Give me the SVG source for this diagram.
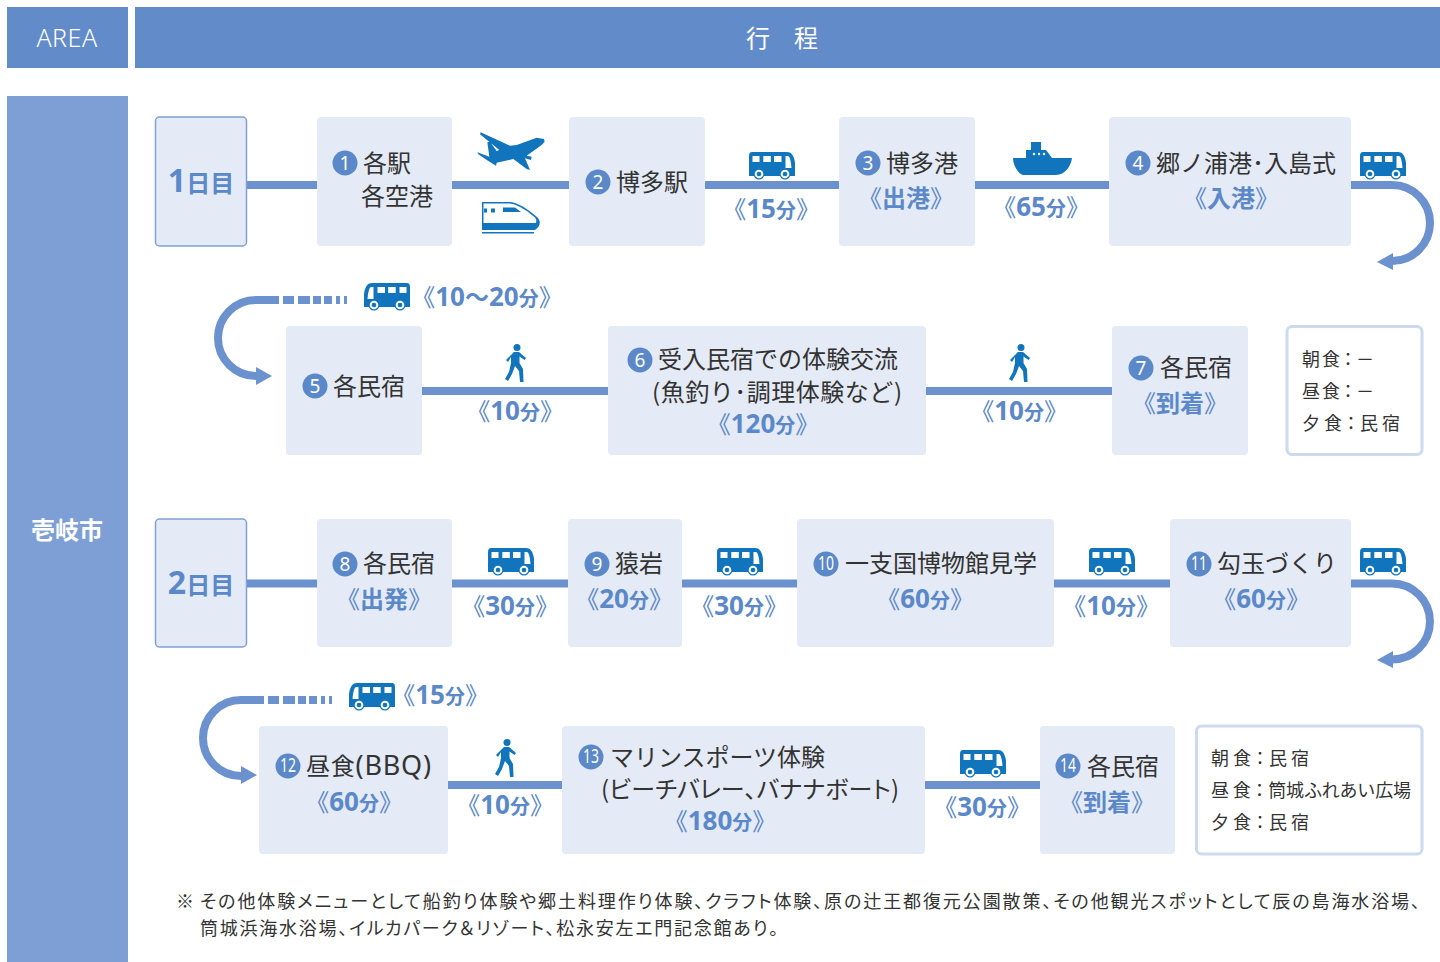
<svg xmlns="http://www.w3.org/2000/svg" width="1440" height="962" viewBox="0 0 1440 962">
<style>
text{font-family:"Noto Sans CJK JP","Noto Sans",sans-serif}
.n{fill:#e4eaf6}
.d{fill:#e4eaf6;stroke:#7fa0d6;stroke-width:1.5}
.m{fill:#fff;stroke:#ccd9ee;stroke-width:3}
.t{font-size:24px;fill:#333}
.p{font-feature-settings:"palt"}
.b{font-size:24px;font-weight:700;fill:#5b88c8;text-anchor:middle}
.k{font-weight:400}
.g{font-family:"Noto Sans",sans-serif;font-size:26px}
.u{font-size:20px}
.c{fill:#5b88c8}
.cn{font-family:"Noto Sans",sans-serif;font-size:19px;fill:#fff;text-anchor:middle}
.s{font-size:18px;fill:#333}
.day{font-size:24px;font-weight:700;fill:#5b88c8;text-anchor:middle}
.day1{font-family:"Noto Sans",sans-serif;font-size:32px}
.h{font-size:24px;fill:#fff;text-anchor:middle}
.l{fill:none;stroke:#6b91cf;stroke-width:8}
.a{fill:#6b91cf}
.i{fill:#1175bd}
.w{fill:#fff}
</style>
<defs>
<g id="bus"><path class="i" d="M3 0H38C42 0 45 3 46 11V24H0V4Q0 0 3 0Z"/><rect class="w" x="3.500" y="4" width="7" height="6"/><rect class="w" x="14.300" y="4" width="7.500" height="6"/><rect class="w" x="25" y="4" width="7.500" height="6"/><path class="w" d="M36.500 4H39Q41.500 4 42.500 16H36.500Z"/><circle class="i" cx="10" cy="22" r="5.500"/><circle class="w" cx="10" cy="22" r="4.300"/><circle class="i" cx="10" cy="22" r="2.300"/><circle class="i" cx="36" cy="22" r="5.500"/><circle class="w" cx="36" cy="22" r="4.300"/><circle class="i" cx="36" cy="22" r="2.300"/></g>
<g id="walk"><circle class="i" cx="11" cy="3.500" r="3.500"/><path class="i" d="M8 8H13L20 14 18.500 16 13.500 12.500V19L17 25 17.500 38H14L13 27 9 22 6 30 2 37-1 35 3 28 5 19V13L2 18 0 16Z"/></g>
</defs>
<g id="header-area"><rect x="7" y="7" width="121" height="61" fill="#628cc9"/><text class="h" x="67" y="47" font-weight="300" style="font-family:'Noto Sans',sans-serif;font-size:25px;letter-spacing:.5px">AREA</text></g>
<g id="header-title"><rect x="135" y="7" width="1305" height="61" fill="#628cc9"/><text class="h" x="782" y="47">行　程</text></g>
<g id="area"><rect x="7" y="96" width="121" height="866" fill="#7e9fd5"/><text x="67" y="539" font-size="24" font-weight="700" fill="#fff" text-anchor="middle">壱岐市</text></g>
<g id="connectors">
<path class="l" d="M247 185H317M452 185H569M705 185H839M975 185H1109"/>
<path class="l" d="M1351 185H1392A38 38 0 0 1 1392 261"/><polygon class="a" points="1377,262 1393,253 1393,270"/>
<path class="l" d="M279 300H256A38 38 0 0 0 256 376"/><polygon class="a" points="272,376 256,367 256,385"/>
<path class="l" d="M283 300H294M298 300H310M313 300H321M324 300H332M336 300H340M344 300H347"/>
<path class="l" d="M422 391H608M926 391H1112"/>
<path class="l" d="M247 583.500H317M452 583.500H568M682 583.500H797M1054 583.500H1170"/>
<path class="l" d="M1351 583.500H1392A38 38 0 0 1 1392 659.500"/><polygon class="a" points="1377,660 1393,651 1393,668"/>
<path class="l" d="M264 700H241A38 38 0 0 0 241 776"/><polygon class="a" points="257,775 241,766 241,784"/>
<path class="l" d="M268 700H279M283 700H295M298 700H306M309 700H317M321 700H325M329 700H332"/>
<path class="l" d="M448 785H562M925 785H1040"/>
</g>
<g id="icons">
<g id="plane" transform="translate(470 125) scale(.3333)"><path class="i" d="M224 50 222 42 200 38 140 60 120 62 32 22 30 28 88 75 80 78 60 50 52 52 58 95 22 82 25 88 55 108 78 122 80 113 130 102 170 132 180 135 165 100 183 105 185 95 170 92 215 60Z"/></g>
<g id="train"><path class="i" d="M482 202H511C522 204 532 213 537 217 541 221 541 226 535 230H482Z"/><path class="w" d="M483.500 203.500H510C520 205 530 213 535 217.500 536.500 219.500 536.500 221 536 223H483.500Z"/><path class="i" d="M484 208.500H487V212.500H484ZM491 208.500H495V212.500H491ZM503 207.500H515L521 212H503Z"/><rect class="i" x="482" y="232" width="52" height="1.500"/></g>
<g id="ship"><path class="i" d="M1031 142H1041V150H1046L1052 158H1072C1071 166 1065 175 1056 175H1024C1019 175 1013 166 1013 158H1026V150H1031Z"/><circle class="w" cx="1034" cy="154" r="1.200"/><circle class="w" cx="1039" cy="154" r="1.200"/><circle class="w" cx="1044" cy="154" r="1.200"/></g>
<use href="#bus" x="749" y="152"/><use href="#bus" x="1360" y="152"/>
<use href="#bus" transform="translate(410 283) scale(-1 1)"/>
<use href="#bus" x="488" y="548"/><use href="#bus" x="717" y="548"/><use href="#bus" x="1089" y="548"/><use href="#bus" x="1360" y="548"/>
<use href="#bus" transform="translate(395 683) scale(-1 1)"/>
<use href="#bus" x="960" y="750"/>
<use href="#walk" x="506" y="344"/><use href="#walk" x="1010" y="344"/><use href="#walk" x="496" y="739"/>
</g>
<g id="day1"><rect class="d" x="155.500" y="117" width="91" height="129" rx="4"/><text class="day" x="201" y="192"><tspan class="day1">1</tspan>日目</text></g>
<g id="n1"><rect class="n" x="317" y="117" width="135" height="129" rx="4"/><circle class="c" cx="345" cy="163" r="12.500"/><text class="cn" x="345" y="170">1</text><text class="t" x="363" y="172">各駅</text><text class="t" x="361" y="205">各空港</text></g>
<g id="n2"><rect class="n" x="569" y="117" width="136" height="129" rx="4"/><circle class="c" cx="598" cy="182" r="12.500"/><text class="cn" x="598" y="189">2</text><text class="t" x="616" y="191">博多駅</text></g>
<g id="n3"><rect class="n" x="839" y="117" width="136" height="129" rx="4"/><circle class="c" cx="868" cy="163" r="12.500"/><text class="cn" x="868" y="170">3</text><text class="t" x="886" y="172">博多港</text><text class="b" x="906" y="207"><tspan class="k">《</tspan>出港<tspan class="k">》</tspan></text></g>
<g id="n4"><rect class="n" x="1109" y="117" width="242" height="129" rx="4"/><circle class="c" cx="1138" cy="163" r="12.500"/><text class="cn" x="1138" y="170">4</text><text class="t" x="1156" y="172">郷ノ浦港･入島式</text><text class="b" x="1231" y="207"><tspan class="k">《</tspan>入港<tspan class="k">》</tspan></text></g>
<g id="n5"><rect class="n" x="286" y="326" width="136" height="129" rx="4"/><circle class="c" cx="315" cy="386" r="12.500"/><text class="cn" x="315" y="393">5</text><text class="t" x="333" y="395">各民宿</text></g>
<g id="n6"><rect class="n" x="608" y="326" width="318" height="129" rx="4"/><circle class="c" cx="640" cy="360" r="12.500"/><text class="cn" x="640" y="367">6</text><text class="t" x="658" y="368">受入民宿での体験交流</text><text class="t" x="652" y="401" textLength="250">(魚釣り･調理体験など)</text><text class="b" x="763" y="433"><tspan class="k">《</tspan><tspan class="g">120</tspan><tspan class="u">分</tspan><tspan class="k">》</tspan></text></g>
<g id="n7"><rect class="n" x="1112" y="326" width="136" height="129" rx="4"/><circle class="c" cx="1141" cy="368" r="12.500"/><text class="cn" x="1141" y="375">7</text><text class="t" x="1160" y="376">各民宿</text><text class="b" x="1180" y="412"><tspan class="k">《</tspan>到着<tspan class="k">》</tspan></text></g>
<g id="meal1"><rect class="m" x="1287" y="326.500" width="135" height="128" rx="5"/><text class="s" x="1302" y="366" textLength="72">朝 食：－</text><text class="s" x="1302" y="398" textLength="72">昼 食：－</text><text class="s" x="1302" y="430" textLength="98">夕 食：民 宿</text></g>
<g id="day2"><rect class="d" x="155.500" y="519" width="91" height="128" rx="4"/><text class="day" x="201" y="594"><tspan class="day1">2</tspan>日目</text></g>
<g id="n8"><rect class="n" x="317" y="519" width="135" height="128" rx="4"/><circle class="c" cx="345" cy="564" r="12.500"/><text class="cn" x="345" y="571">8</text><text class="t" x="363" y="572">各民宿</text><text class="b" x="384" y="608"><tspan class="k">《</tspan>出発<tspan class="k">》</tspan></text></g>
<g id="n9"><rect class="n" x="568" y="519" width="114" height="128" rx="4"/><circle class="c" cx="597" cy="564" r="12.500"/><text class="cn" x="597" y="571">9</text><text class="t" x="615" y="572">猿岩</text><text class="b" x="624" y="608"><tspan class="k">《</tspan><tspan class="g">20</tspan><tspan class="u">分</tspan><tspan class="k">》</tspan></text></g>
<g id="n10"><rect class="n" x="797" y="519" width="257" height="128" rx="4"/><circle class="c" cx="826" cy="564" r="12.500"/><text class="cn" x="826" y="570" textLength="16" lengthAdjust="spacingAndGlyphs">10</text><text class="t" x="845" y="572">一支国博物館見学</text><text class="b" x="925" y="608"><tspan class="k">《</tspan><tspan class="g">60</tspan><tspan class="u">分</tspan><tspan class="k">》</tspan></text></g>
<g id="n11"><rect class="n" x="1170" y="519" width="181" height="128" rx="4"/><circle class="c" cx="1199" cy="564" r="12.500"/><text class="cn" x="1199" y="570" textLength="16" lengthAdjust="spacingAndGlyphs">11</text><text class="t" x="1217" y="572">勾玉づくり</text><text class="b" x="1261" y="608"><tspan class="k">《</tspan><tspan class="g">60</tspan><tspan class="u">分</tspan><tspan class="k">》</tspan></text></g>
<g id="n12"><rect class="n" x="259" y="726" width="189" height="128" rx="4"/><circle class="c" cx="288" cy="766" r="12.500"/><text class="cn" x="288" y="772" textLength="16" lengthAdjust="spacingAndGlyphs">12</text><text class="t" x="306" y="775" textLength="125">昼食<tspan font-size="27" style="font-family:'Noto Sans',sans-serif">(BBQ)</tspan></text><text class="b" x="354" y="811"><tspan class="k">《</tspan><tspan class="g">60</tspan><tspan class="u">分</tspan><tspan class="k">》</tspan></text></g>
<g id="n13"><rect class="n" x="562" y="726" width="363" height="128" rx="4"/><circle class="c" cx="591" cy="757" r="12.500"/><text class="cn" x="591" y="763" textLength="16" lengthAdjust="spacingAndGlyphs">13</text><text class="t" x="610" y="766">マリンスポーツ体験</text><text class="t p" x="601" y="798" textLength="298">(ビーチバレー、バナナボート)</text><text class="b" x="720" y="830"><tspan class="k">《</tspan><tspan class="g">180</tspan><tspan class="u">分</tspan><tspan class="k">》</tspan></text></g>
<g id="n14"><rect class="n" x="1040" y="726" width="135" height="128" rx="4"/><circle class="c" cx="1068" cy="766" r="12.500"/><text class="cn" x="1068" y="772" textLength="16" lengthAdjust="spacingAndGlyphs">14</text><text class="t" x="1087" y="775">各民宿</text><text class="b" x="1107" y="811"><tspan class="k">《</tspan>到着<tspan class="k">》</tspan></text></g>
<g id="meal2"><rect class="m" x="1196.500" y="726" width="225.500" height="128" rx="5"/><text class="s" x="1211" y="765" textLength="98">朝 食：民 宿</text><text class="s" x="1211" y="797" textLength="200">昼 食：筒城ふれあい広場</text><text class="s" x="1211" y="829" textLength="98">夕 食：民 宿</text></g>
<g id="labels">
<text class="b" x="771" y="218"><tspan class="k">《</tspan><tspan class="g">15</tspan><tspan class="u">分</tspan><tspan class="k">》</tspan></text>
<text class="b" x="1041" y="216"><tspan class="k">《</tspan><tspan class="g">65</tspan><tspan class="u">分</tspan><tspan class="k">》</tspan></text>
<text class="b" x="487" y="306"><tspan class="k">《</tspan><tspan class="g">10</tspan>～<tspan class="g">20</tspan><tspan class="u">分</tspan><tspan class="k">》</tspan></text>
<text class="b" x="515" y="420"><tspan class="k">《</tspan><tspan class="g">10</tspan><tspan class="u">分</tspan><tspan class="k">》</tspan></text>
<text class="b" x="1019" y="420"><tspan class="k">《</tspan><tspan class="g">10</tspan><tspan class="u">分</tspan><tspan class="k">》</tspan></text>
<text class="b" x="510" y="615"><tspan class="k">《</tspan><tspan class="g">30</tspan><tspan class="u">分</tspan><tspan class="k">》</tspan></text>
<text class="b" x="739" y="615"><tspan class="k">《</tspan><tspan class="g">30</tspan><tspan class="u">分</tspan><tspan class="k">》</tspan></text>
<text class="b" x="1111" y="615"><tspan class="k">《</tspan><tspan class="g">10</tspan><tspan class="u">分</tspan><tspan class="k">》</tspan></text>
<text class="b" x="440" y="704"><tspan class="k">《</tspan><tspan class="g">15</tspan><tspan class="u">分</tspan><tspan class="k">》</tspan></text>
<text class="b" x="505" y="814"><tspan class="k">《</tspan><tspan class="g">10</tspan><tspan class="u">分</tspan><tspan class="k">》</tspan></text>
<text class="b" x="982" y="816"><tspan class="k">《</tspan><tspan class="g">30</tspan><tspan class="u">分</tspan><tspan class="k">》</tspan></text>
</g>
<g id="note">
<text class="s" x="176" y="908">※</text>
<text class="s p" x="200" y="908" textLength="1220">その他体験メニューとして船釣り体験や郷土料理作り体験、クラフト体験、原の辻王都復元公園散策、その他観光スポットとして辰の島海水浴場、</text>
<text class="s p" x="200" y="935" textLength="578">筒城浜海水浴場、イルカパーク＆リゾート、松永安左エ門記念館あり。</text>
</g>
</svg>
